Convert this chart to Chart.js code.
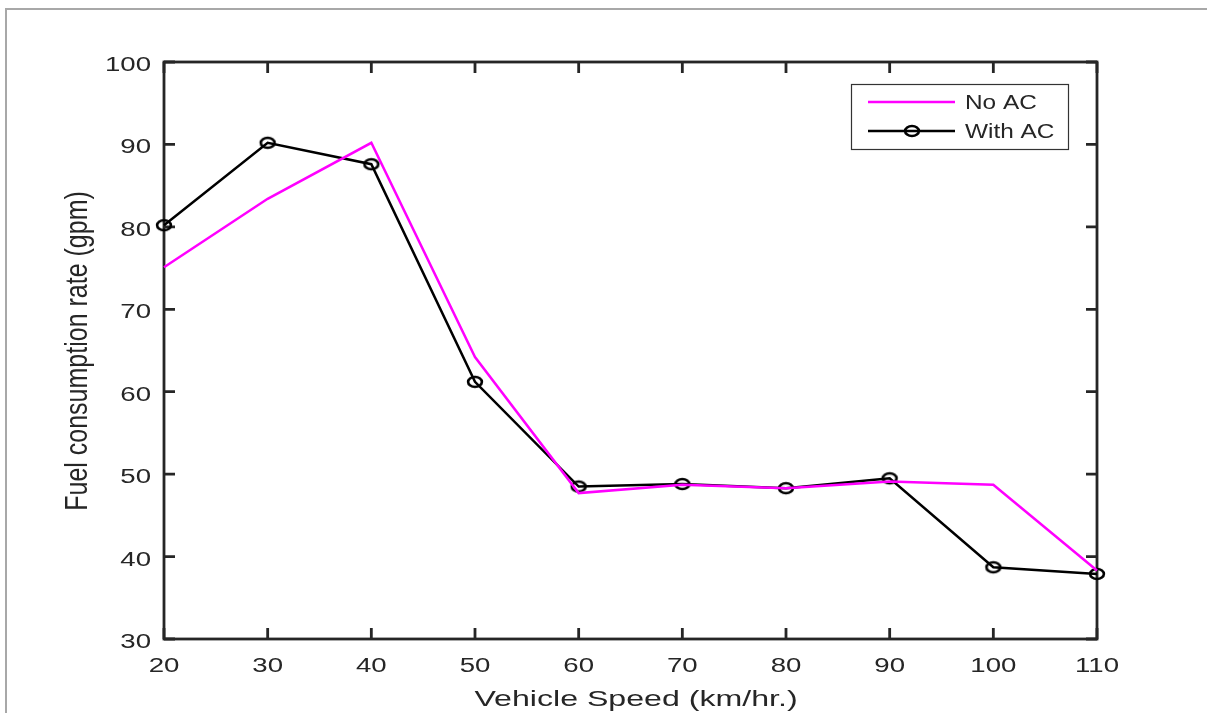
<!DOCTYPE html>
<html lang="en">
<head>
<meta charset="UTF-8">
<title>Fuel consumption vs vehicle speed</title>
<style>
    body {
        margin: 0;
        background: #fff;
        overflow: hidden;
    }
    .wrap {
        position: relative;
        width: 1207px;
        height: 713px;
    }
    .frame {
        position: absolute;
        left: 5px;
        top: 8px;
        width: 1400px;
        height: 900px;
        border-top: 2px solid #a8a8a8;
        border-left: 2px solid #a8a8a8;
        pointer-events: none;
    }
</style>
</head>
<body>
<div class="wrap">
    <canvas id="fuelChart" width="1207" height="713"></canvas>
    <div class="frame"></div>
</div>

<script src="https://cdn.jsdelivr.net/npm/chart.js"></script>
<script>
    // speeds (km/hr.)
    const speeds = [20, 30, 40, 50, 60, 70, 80, 90, 100, 110];
    // fuel consumption rate (gpm)
    const noAC = [75.1, 83.4, 90.2, 64.2, 47.7, 48.7, 48.3, 49.1, 48.7, 38.3];
    const withAC = [80.2, 90.2, 87.6, 61.2, 48.5, 48.8, 48.3, 49.5, 38.7, 37.9];

    const seriesNames = ['No AC', 'With AC'];
    const xTitle = 'Vehicle Speed (km/hr.)';
    const yTitle = 'Fuel consumption rate (gpm)';

    const axisColor = '#262626';
    const fontFamily = 'Liberation Sans';

    // hollow, slightly wide "o" marker
    function makeMarker() {
        const c = document.createElement('canvas');
        c.width = 22;
        c.height = 18;
        const g = c.getContext('2d');
        g.strokeStyle = '#000';
        g.lineWidth = 2.6;
        g.beginPath();
        g.ellipse(11, 9, 6.9, 5.0, 0, 0, Math.PI * 2);
        g.stroke();
        return c;
    }
    const marker = makeMarker();

    function toPoints(values) {
        return speeds.map((s, i) => ({ x: s, y: values[i] }));
    }

    // text drawn with a horizontal stretch (wide Helvetica look)
    function stretchText(ctx, text, x, y, size, hs, align) {
        ctx.save();
        ctx.translate(x, y);
        ctx.scale(hs, 1);
        ctx.font = size + 'px "' + fontFamily + '"';
        ctx.fillStyle = axisColor;
        ctx.textAlign = align;
        ctx.textBaseline = 'alphabetic';
        ctx.fillText(text, 0, 0);
        ctx.restore();
    }

    // box around the plot, inward ticks, tick labels and axis titles
    const boxAxes = {
        id: 'boxAxes',
        beforeDatasetsDraw(chart) {
            const { ctx, chartArea: a, scales } = chart;
            const tl = 11;
            ctx.save();
            ctx.strokeStyle = axisColor;
            ctx.lineWidth = 2.8;
            ctx.strokeRect(a.left, a.top, a.right - a.left, a.bottom - a.top);
            ctx.beginPath();
            scales.x.ticks.forEach(t => {
                const px = scales.x.getPixelForValue(t.value);
                ctx.moveTo(px, a.bottom); ctx.lineTo(px, a.bottom - tl);
                ctx.moveTo(px, a.top); ctx.lineTo(px, a.top + tl);
            });
            scales.y.ticks.forEach(t => {
                const py = scales.y.getPixelForValue(t.value);
                ctx.moveTo(a.left, py); ctx.lineTo(a.left + tl, py);
                ctx.moveTo(a.right, py); ctx.lineTo(a.right - tl, py);
            });
            ctx.stroke();
            ctx.restore();

            scales.x.ticks.forEach(t => {
                const px = scales.x.getPixelForValue(t.value);
                stretchText(ctx, String(t.value), px, a.bottom + 33, 20, 1.38, 'center');
            });
            scales.y.ticks.forEach(t => {
                const py = scales.y.getPixelForValue(t.value);
                stretchText(ctx, String(t.value), a.left - 13, py + 9, 20, 1.38, 'right');
            });

            stretchText(ctx, xTitle, 636, 706, 22, 1.46, 'center');

            ctx.save();
            ctx.translate(87, 351);
            ctx.scale(1.23, 1);
            ctx.rotate(-Math.PI / 2);
            ctx.font = '25px "' + fontFamily + '"';
            ctx.fillStyle = axisColor;
            ctx.textAlign = 'center';
            ctx.textBaseline = 'alphabetic';
            ctx.fillText(yTitle, 0, 0);
            ctx.restore();
        }
    };

    // legend box in the upper right of the plot
    const boxLegend = {
        id: 'boxLegend',
        afterDatasetsDraw(chart) {
            const { ctx } = chart;
            const x = 851, y = 84, w = 217, h = 65;
            ctx.save();
            ctx.fillStyle = '#fff';
            ctx.fillRect(x, y, w, h);
            ctx.strokeStyle = '#333';
            ctx.lineWidth = 1.2;
            ctx.strokeRect(x + 0.5, y + 0.5, w, h);

            const rows = [102, 131];
            chart.data.datasets.forEach((ds, i) => {
                ctx.strokeStyle = ds.borderColor;
                ctx.lineWidth = ds.borderWidth;
                ctx.beginPath();
                ctx.moveTo(868, rows[i]);
                ctx.lineTo(955, rows[i]);
                ctx.stroke();
                if (ds.pointRadius > 0) {
                    ctx.drawImage(marker, 912 - 11, rows[i] - 9);
                }
                stretchText(ctx, ds.label, 965, rows[i] + 7, 19.5, 1.25, 'left');
            });
            ctx.restore();
        }
    };

    const ctx = document.getElementById('fuelChart').getContext('2d');
    new Chart(ctx, {
        type: 'line',
        data: {
            datasets: [
                {
                    label: seriesNames[0],
                    data: toPoints(noAC),
                    borderColor: '#ff00ff',
                    borderWidth: 2.5,
                    pointRadius: 0,
                    tension: 0,
                    clip: false
                },
                {
                    label: seriesNames[1],
                    data: toPoints(withAC),
                    borderColor: '#000',
                    borderWidth: 2.5,
                    pointStyle: marker,
                    pointRadius: 7,
                    tension: 0,
                    clip: false
                }
            ]
        },
        options: {
            responsive: false,
            animation: false,
            devicePixelRatio: 1,
            layout: {
                padding: { left: 0, top: 62, right: 110, bottom: 0 }
            },
            plugins: {
                legend: { display: false },
                tooltip: { enabled: false }
            },
            scales: {
                x: {
                    type: 'linear',
                    min: 20,
                    max: 110,
                    grid: { display: false, drawTicks: false },
                    border: { display: false },
                    ticks: { stepSize: 10, display: false },
                    afterFit(scale) { scale.height = 74; }
                },
                y: {
                    type: 'linear',
                    min: 30,
                    max: 100,
                    grid: { display: false, drawTicks: false },
                    border: { display: false },
                    ticks: { stepSize: 10, display: false },
                    afterFit(scale) { scale.width = 164; }
                }
            }
        },
        plugins: [boxAxes, boxLegend]
    });
</script>
</body>
</html>
